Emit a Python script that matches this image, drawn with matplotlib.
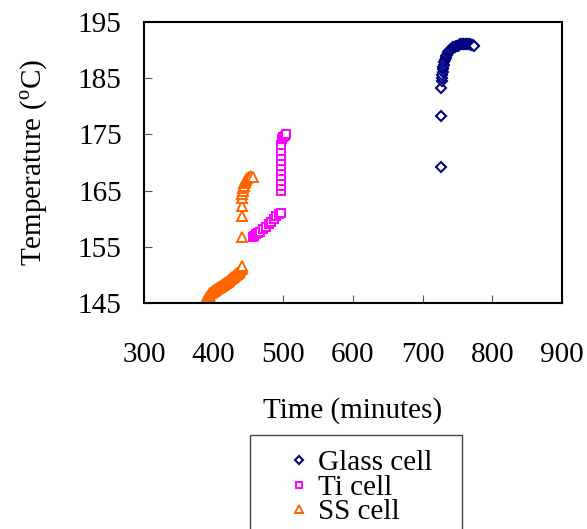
import matplotlib
matplotlib.use('Agg')
import matplotlib.pyplot as plt
from matplotlib.patches import Rectangle

plt.rcParams['font.family'] = ['Liberation Serif', 'DejaVu Serif']
plt.rcParams['mathtext.fontset'] = 'custom'
plt.rcParams['mathtext.rm'] = 'Liberation Serif'

# Glass cell
glass_t = [727, 727, 727, 727.5, 728, 728, 728.5, 729, 729.5, 730, 731, 732, 733,
           734, 735, 736, 737, 738, 739, 740, 742, 744, 746, 748, 750, 752, 754,
           756, 758, 760, 762, 764, 766, 768, 770, 772, 774]
glass_T = [169.2, 178.3, 183.2, 184.5, 185.1, 185.6, 186.1, 186.6, 187.0, 187.4,
           187.8, 188.2, 188.6, 188.9, 189.2, 189.4, 189.6, 189.8, 190.0, 190.1,
           190.3, 190.5, 190.6, 190.7, 190.8, 190.9, 191.0, 191.0, 191.1, 191.1,
           191.1, 191.1, 191.0, 191.0, 190.9, 190.9, 190.8]

# Ti cell
ti_t = [456, 458, 461, 464, 467, 471, 475, 479, 483, 487, 490, 494, 496.5,
        496.5, 496.5, 496.5, 496.5, 496.5, 496.5, 496.5, 496.5, 497, 497, 498,
        500, 502, 504]
ti_T = [156.8, 157.0, 157.3, 157.5, 157.7, 158.1, 158.5, 159.0, 159.5, 160.0,
        160.4, 160.8, 161.0,
        164.9, 165.8, 166.7, 167.6, 168.4, 169.3, 170.2, 171.1, 172.0, 173.2,
        174.1, 174.5, 174.8, 175.0]

# SS cell
ss_t = [388, 389, 390, 391, 392, 393, 394, 395, 396, 397, 398, 399, 400, 401,
        402, 403, 404, 405, 406, 407, 408, 409, 410, 411, 412, 413, 414, 415,
        416, 417, 418, 419, 420, 421, 422, 423, 424, 425, 426, 427, 428, 429,
        430, 431, 432, 433, 434, 435, 436, 437, 438, 439, 440, 441,
        441, 441, 441, 441, 441, 442, 442.5, 443, 444, 445, 446, 448, 450,
        452, 454, 457]
ss_T = [145.3, 145.6, 145.8, 146.0, 146.2, 146.4, 146.5, 146.7, 146.8, 146.9,
        147.0, 147.1, 147.2, 147.3, 147.4, 147.5, 147.5, 147.6, 147.7, 147.8,
        147.8, 147.9, 148.0, 148.1, 148.2, 148.2, 148.3, 148.4, 148.5, 148.6,
        148.7, 148.8, 148.9, 149.0, 149.1, 149.2, 149.3, 149.4, 149.5, 149.6,
        149.7, 149.8, 149.9, 150.0, 150.1, 150.2, 150.3, 150.4, 150.5, 150.6,
        150.8, 151.0, 151.2, 151.5,
        156.8, 160.4, 162.3, 163.7, 164.4, 164.9, 165.5, 165.9, 166.3, 166.6,
        166.9, 167.2, 167.4, 167.5, 167.6, 167.5]

fig = plt.figure(figsize=(5.87, 5.29), dpi=100)
ax = fig.add_axes([144 / 587, 1 - 303 / 529, 418 / 587, 281 / 529])

ax.plot(glass_t, glass_T, linestyle='none', marker='D', markersize=5.2,
        markerfacecolor='white', markeredgecolor='#000080', markeredgewidth=1.5,
        label='Glass cell')
ax.plot(ti_t, ti_T, linestyle='none', marker='s', markersize=5.5,
        markerfacecolor='white', markeredgecolor='#FF00FF', markeredgewidth=1.4,
        label='Ti cell')
ax.plot(ss_t, ss_T, linestyle='none', marker='^', markersize=6.5,
        markerfacecolor='white', markeredgecolor='#FF6600', markeredgewidth=1.4,
        label='SS cell')

ax.set_xlim(300, 900)
ax.set_ylim(145, 195)
ax.set_xticks([300, 400, 500, 600, 700, 800, 900])
ax.set_yticks([145, 155, 165, 175, 185, 195])
ax.tick_params(axis='x', direction='in', length=6, color='#555555', pad=28,
               labelsize=21)
ax.tick_params(axis='y', direction='in', length=6, color='#555555', pad=16,
               labelsize=21)
for s in ax.spines.values():
    s.set_linewidth(1.5)
    s.set_color('black')

ax.set_xlabel('Time (minutes)', fontsize=21, labelpad=21)
ax.set_ylabel('Temperature ($^{\\mathrm{o}}$C)', fontsize=21, labelpad=20)

# legend frame (runs past the bottom edge, like the reference)
fig.patches.append(Rectangle((250 / 587, -0.05), 212 / 587, 0.05 + 94 / 529,
                             transform=fig.transFigure, facecolor='none',
                             edgecolor='#444444', linewidth=1.0))
fig.legend(loc='upper left', bbox_to_anchor=(284 / 587, 1 - 450 / 529),
           fontsize=21, frameon=False, labelspacing=-0.07, handlelength=1.0,
           handletextpad=0.15, borderpad=0, borderaxespad=0, markerscale=0.8)

fig.savefig('out.png', dpi=100)
